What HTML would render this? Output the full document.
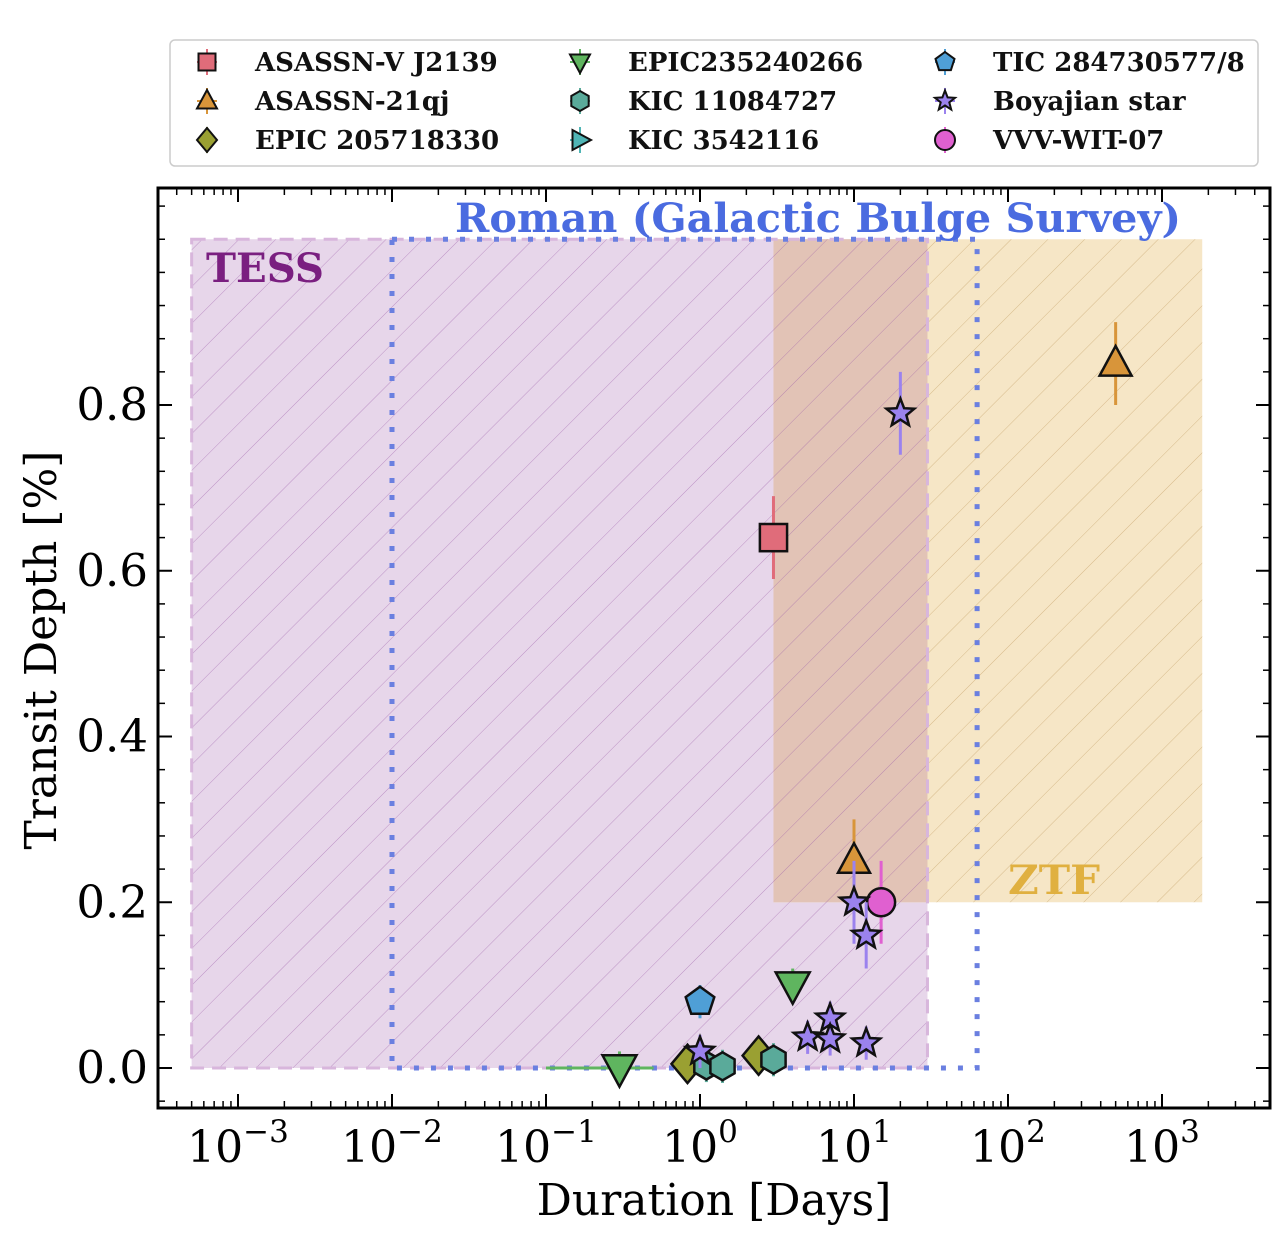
<!DOCTYPE html>
<html><head><meta charset="utf-8">
<style>
html,body{margin:0;padding:0;background:#fff;}
svg{display:block;}
text{font-family:"DejaVu Serif","Liberation Serif",serif;}
</style></head>
<body>
<svg id="chart" width="1282" height="1238" viewBox="0 0 1282 1238" xmlns="http://www.w3.org/2000/svg">
<defs>
<pattern id="hatchP" patternUnits="userSpaceOnUse" width="26" height="26" patternTransform="rotate(45)">
<line x1="0" y1="0" x2="0" y2="26" stroke="#9b5aa8" stroke-width="1" opacity="0.55"/>
</pattern>
<pattern id="hatchZ" patternUnits="userSpaceOnUse" width="26" height="26" patternTransform="rotate(45)">
<line x1="0" y1="0" x2="0" y2="26" stroke="#b89050" stroke-width="1" opacity="0.5"/>
</pattern>
</defs>
<g id="regions"></g>
<g id="axes"></g>
<g id="marks"></g>
<g id="legend"></g>
</svg>
<script>
// ---- data ----
const seriesNames = ["ASASSN-V J2139","ASASSN-21qj","EPIC 205718330","EPIC235240266","KIC 11084727","KIC 3542116","TIC 284730577/8","Boyajian star","VVV-WIT-07"];
const seriesColors = ["#e06c7a","#d8953a","#9aa032","#5fb55f","#5aaa9a","#4fb5b5","#4f9fd6","#9b82ee","#e060d0"];
const seriesShapes = ["square","triangle","diamond","tridown","hexagon","triright","pentagon","star","circle"];
const j2139Dur = [3]; const j2139Depth = [0.64]; const j2139Err = [0.05];
const qjDur = [500, 10]; const qjDepth = [0.85, 0.25]; const qjErr = [0.05, 0.05];
const epic2057Dur = [0.83, 2.4]; const epic2057Depth = [0.005, 0.015]; const epic2057Err = [0.01, 0.01];
const epic2352Dur = [0.3, 4]; const epic2352Depth = [0.0, 0.1]; const epic2352Err = [0.02, 0.02];
const epic2352XLo = [0.1, 4]; const epic2352XHi = [0.5, 4];
const kic110Dur = [1.1, 1.4, 3]; const kic110Depth = [0.003, 0.002, 0.01]; const kic110Err = [0.02, 0.02, 0.02];
const ticDur = [1]; const ticDepth = [0.08]; const ticErr = [0.02];
const boyDur = [20, 10, 12, 5, 7, 7, 12, 1]; const boyDepth = [0.79, 0.2, 0.16, 0.037, 0.06, 0.035, 0.03, 0.02];
const boyErr = [0.05, 0.05, 0.04, 0.02, 0.02, 0.02, 0.02, 0.02];
const vvvDur = [15]; const vvvDepth = [0.2]; const vvvErr = [0.05];
const xTickExp = [-3,-2,-1,0,1,2,3];
const yTicks = [0.0,0.2,0.4,0.6,0.8];
const tessBox = [0.0005, 30, 0, 1.0];
const romanBox = [0.01, 63, 0, 1.0];
const ztfBox = [3, 1825, 0.2, 1.0];

// ---- axes ----
const X0=158,X1=1270,Y0=188,Y1=1108;
function xs(v){return 700+154*Math.log10(v);}
function ys(v){return 1068-828.75*v;}
const NS="http://www.w3.org/2000/svg";
function mk(tag,attrs,parent){const e=document.createElementNS(NS,tag);for(const k in attrs)e.setAttribute(k,attrs[k]);parent.appendChild(e);return e;}
const regions=document.getElementById('regions'), axes=document.getElementById('axes'), marks=document.getElementById('marks'), legend=document.getElementById('legend');

let r;
r=mk('rect',{x:xs(tessBox[0]),y:ys(tessBox[3]),width:xs(tessBox[1])-xs(tessBox[0]),height:ys(tessBox[2])-ys(tessBox[3]),fill:'#e7d6ea'},regions);


r=mk('rect',{x:xs(ztfBox[0]),y:ys(ztfBox[3]),width:xs(ztfBox[1])-xs(ztfBox[0]),height:ys(ztfBox[2])-ys(ztfBox[3]),fill:'#f6e6c6'},regions);


const ox0=xs(ztfBox[0]),ox1=xs(tessBox[1]);
r=mk('rect',{x:ox0,y:ys(1),width:ox1-ox0,height:ys(0.2)-ys(1),fill:'#e2c3b6'},regions);


mk('rect',{x:xs(tessBox[0]),y:ys(1),width:xs(tessBox[1])-xs(tessBox[0]),height:ys(0)-ys(1),fill:'url(#hatchP)'},regions);
mk('rect',{x:xs(tessBox[1]),y:ys(1),width:xs(ztfBox[1])-xs(tessBox[1]),height:ys(0.2)-ys(1),fill:'url(#hatchZ)'},regions);
mk('rect',{x:xs(tessBox[0]),y:ys(1),width:xs(tessBox[1])-xs(tessBox[0]),height:ys(0)-ys(1),fill:'none',stroke:'#d8b6dc','stroke-width':3,'stroke-dasharray':'14 8'},regions);
r=mk('rect',{x:xs(romanBox[0]),y:ys(1),width:xs(romanBox[1])-xs(romanBox[0]),height:ys(0)-ys(1),fill:'none',stroke:'#6a7fe0','stroke-width':5,'stroke-dasharray':'5 12'},regions);


let t=mk('text',{x:206,y:282,fill:'#7a1f80','font-size':40,'font-weight':'bold',textLength:118,lengthAdjust:'spacingAndGlyphs'},regions);t.textContent='TESS';


t=mk('text',{x:455,y:232,fill:'#4a6be0','font-size':40,'font-weight':'bold',textLength:726,lengthAdjust:'spacingAndGlyphs'},regions);t.textContent='Roman (Galactic Bulge Survey)';


t=mk('text',{x:1008,y:894,fill:'#e0b040','font-size':40,'font-weight':'bold',textLength:92,lengthAdjust:'spacingAndGlyphs'},regions);t.textContent='ZTF';



mk('rect',{x:X0,y:Y0,width:X1-X0,height:Y1-Y0,fill:'none',stroke:'#000','stroke-width':3},axes);
xTickExp.forEach(e=>{
  const x=xs(Math.pow(10,e));
  mk('line',{x1:x,y1:Y1,x2:x,y2:Y1-14,stroke:'#000','stroke-width':2},axes);
  mk('line',{x1:x,y1:Y0,x2:x,y2:Y0+14,stroke:'#000','stroke-width':2},axes);
  const tx=mk('text',{x:x,y:1162,'font-size':44,'text-anchor':'middle'},axes);
  
  
  tx.innerHTML='10<tspan dy="-20" font-size="31">'+(e<0?'\u2212'+(-e):e)+'</tspan>';
});
for(let e=-4;e<=3;e++){for(let m=2;m<=9;m++){const x=xs(m*Math.pow(10,e));if(x<X0+2||x>X1-2)continue;
  mk('line',{x1:x,y1:Y1,x2:x,y2:Y1-7,stroke:'#000','stroke-width':1.5},axes);
  mk('line',{x1:x,y1:Y0,x2:x,y2:Y0+7,stroke:'#000','stroke-width':1.5},axes);}}
yTicks.forEach(v=>{
  const y=ys(v);
  mk('line',{x1:X0,y1:y,x2:X0+14,y2:y,stroke:'#000','stroke-width':2},axes);
  mk('line',{x1:X1,y1:y,x2:X1-14,y2:y,stroke:'#000','stroke-width':2},axes);
  const tx=mk('text',{x:148,y:y+15,'font-size':45,'text-anchor':'end'},axes);
  
  
  tx.textContent=v.toFixed(1);
});
for(let v=-0.04;v<1.06;v+=0.04){const y=ys(v);if(y<Y0+2||y>Y1-2)continue;
  mk('line',{x1:X0,y1:y,x2:X0+7,y2:y,stroke:'#000','stroke-width':1.5},axes);
  mk('line',{x1:X1,y1:y,x2:X1-7,y2:y,stroke:'#000','stroke-width':1.5},axes);}
t=mk('text',{x:714,y:1215,'font-size':44,'text-anchor':'middle'},axes);t.textContent='Duration [Days]';


t=mk('text',{x:0,y:0,'font-size':44,'text-anchor':'middle',transform:'translate(56,650) rotate(-90)'},axes);t.textContent='Transit Depth [%]';



function shape(kind,cx,cy,s,fill,parent,sw){
  const st={fill:fill,stroke:'#111','stroke-width':sw||2.5,'stroke-linejoin':'miter'};
  let el;
  function poly(pts){return mk('polygon',Object.assign({points:pts.map(p=>(cx+p[0]*s).toFixed(1)+','+(cy+p[1]*s).toFixed(1)).join(' ')},st),parent);}
  if(kind==='square')el=mk('rect',Object.assign({x:cx-s*0.85,y:cy-s*0.85,width:s*1.7,height:s*1.7},st),parent);
  else if(kind==='circle')el=mk('circle',Object.assign({cx:cx,cy:cy,r:s},st),parent);
  else if(kind==='triangle')el=poly([[0,-1.1],[1,0.75],[-1,0.75]]);
  else if(kind==='tridown')el=poly([[0,1.1],[1,-0.75],[-1,-0.75]]);
  else if(kind==='triright')el=poly([[1.1,0],[-0.75,1],[-0.75,-1]]);
  else if(kind==='diamond')el=poly([[0,-1.2],[1.0,0],[0,1.2],[-1.0,0]]);
  else if(kind==='hexagon'){const p=[];for(let i=0;i<6;i++){const a=Math.PI/6+i*Math.PI/3;p.push([Math.cos(a),Math.sin(a)]);}el=poly(p);}
  else if(kind==='pentagon'){const p=[];for(let i=0;i<5;i++){const a=-Math.PI/2+i*2*Math.PI/5;p.push([Math.cos(a),Math.sin(a)]);}el=poly(p);}
  else if(kind==='star'){const p=[];for(let i=0;i<10;i++){const a=-Math.PI/2+i*Math.PI/5;const rr=i%2?0.45:1.05;p.push([rr*Math.cos(a),rr*Math.sin(a)]);}el=poly(p);}
  return el;
}
const sizes=[16,16,16,17,14,15,15,14,14];
function plotSeries(idx,durs,deps,errs,name){
  durs.forEach((d,i)=>{
    const cx=xs(d);
    const eb=mk('line',{x1:cx,y1:ys(deps[i]+errs[i]),x2:cx,y2:ys(deps[i]-errs[i]),stroke:seriesColors[idx],'stroke-width':3},marks);
    
    
  });
  durs.forEach((d,i)=>{
    const el=shape(seriesShapes[idx],xs(d),ys(deps[i]),sizes[idx],seriesColors[idx],marks);
    
    
  });
}
epic2352XLo.forEach((lo,i)=>{if(lo===epic2352XHi[i])return;
  const l=mk('line',{x1:xs(lo),y1:ys(epic2352Depth[i]),x2:xs(epic2352XHi[i]),y2:ys(epic2352Depth[i]),stroke:seriesColors[3],'stroke-width':3},marks);
  
  
});
plotSeries(3,epic2352Dur,epic2352Depth,epic2352Err,'epic235240266');
plotSeries(6,ticDur,ticDepth,ticErr,'tic-284730577');
plotSeries(2,epic2057Dur,epic2057Depth,epic2057Err,'epic-205718330');
plotSeries(4,kic110Dur,kic110Depth,kic110Err,'kic-11084727');
plotSeries(0,j2139Dur,j2139Depth,j2139Err,'asassn-v-j2139');
plotSeries(1,qjDur,qjDepth,qjErr,'asassn-21qj');
plotSeries(8,vvvDur,vvvDepth,vvvErr,'vvv-wit-07');
plotSeries(7,boyDur,boyDepth,boyErr,'boyajian-star');

const lb=mk('rect',{x:170,y:40,width:1088,height:126,rx:5,fill:'#fff',stroke:'#ccc','stroke-width':1.5},legend);


const colX=[207,580,945], rowY=[62,101,140];
seriesNames.forEach((n,i)=>{
  const c=Math.floor(i/3), rI=i%3;
  const g=mk('g',{},legend);
  
  
  mk('line',{x1:colX[c],y1:rowY[rI]-13,x2:colX[c],y2:rowY[rI]+13,stroke:seriesColors[i],'stroke-width':2},g);
  mk('line',{x1:colX[c]-10,y1:rowY[rI],x2:colX[c]+10,y2:rowY[rI],stroke:seriesColors[i],'stroke-width':2},g);
  shape(seriesShapes[i],colX[c],rowY[rI],10,seriesColors[i],g,2);
  const tx=mk('text',{x:colX[c]+48,y:rowY[rI]+9,'font-size':26,'font-weight':'bold',fill:'#111'},g);
  tx.textContent=n;
});
</script>
</body></html>
